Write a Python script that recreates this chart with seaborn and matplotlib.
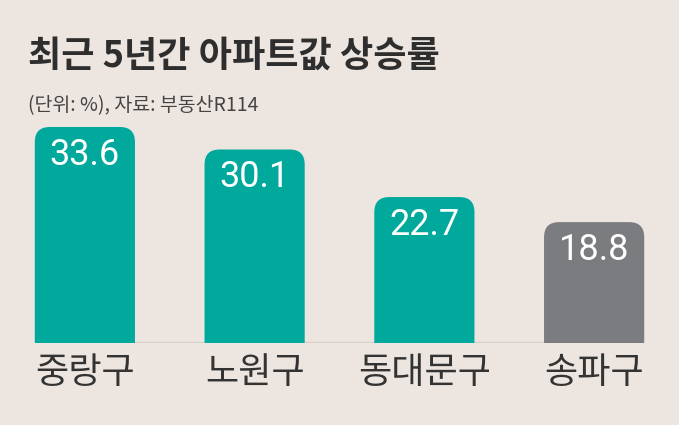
import matplotlib
matplotlib.use("Agg")
import matplotlib.pyplot as plt
from matplotlib.patches import FancyBboxPatch
import seaborn as sns
import pandas as pd

districts = ["중랑구", "노원구", "동대문구", "송파구"]
rise = [33.6, 30.1, 22.7, 18.8]
bar_colors = ["#00a99c", "#00a99c", "#00a99c", "#7b7c80"]
title = "최근 5년간 아파트값 상승률"
subtitle = "(단위: %), 자료: 부동산R114"

bg = "#ede6e0"
sns.set_style("white")
plt.rcParams["font.family"] = ["Noto Sans CJK KR", "DejaVu Sans"]

df = pd.DataFrame({"district": districts, "rise": rise})

fig = plt.figure(figsize=(6.79, 4.25), dpi=100, facecolor=bg)
ax = fig.add_axes([0, 0.193, 1, 0.605])
ax.set_facecolor(bg)

sns.barplot(data=df, x="district", y="rise", hue="district",
            palette=bar_colors, saturation=1, width=0.59, legend=False, ax=ax)

ax.set_xlim(-0.5, 3.5)
ax.set_ylim(0, 40)

# swap the plain bars for ones with rounded tops
px_x = ax.bbox.width / 4
px_y = ax.bbox.height / 40
aspect = px_x / px_y
radius = 15 / px_x
for bar in list(ax.patches):
    x0, w, h = bar.get_x(), bar.get_width(), bar.get_height()
    col = bar.get_facecolor()
    bar.remove()
    ax.add_patch(FancyBboxPatch((x0, -5), w, h + 5,
                                boxstyle=f"round,pad=0,rounding_size={radius}",
                                mutation_aspect=aspect, fc=col, ec="none"))

for i, v in enumerate(rise):
    ax.annotate(f"{v}", (i, v), xytext=(0, -20), textcoords="offset points",
                ha="center", va="center", color="white", fontsize=26,
                family=["Roboto", "DejaVu Sans"])

# faint shadow along the base, only between the bars
ax.axhline(0, xmin=0.06, xmax=0.94, color="#d9d1ca", lw=2.5, zorder=0)
ax.set_xlabel("")
ax.set_ylabel("")
ax.set_yticks([])
ax.tick_params(axis="x", length=0, pad=9, labelsize=26, labelcolor="#333333")
sns.despine(ax=ax, left=True, bottom=True)

fig.text(0.041, 0.868, title, fontsize=26, fontweight="bold",
         color="#2e2e2e", va="center", ha="left")
fig.text(0.041, 0.751, subtitle, fontsize=14, color="#444444",
         va="center", ha="left")

fig.savefig("out.png", dpi=100, facecolor=bg)
